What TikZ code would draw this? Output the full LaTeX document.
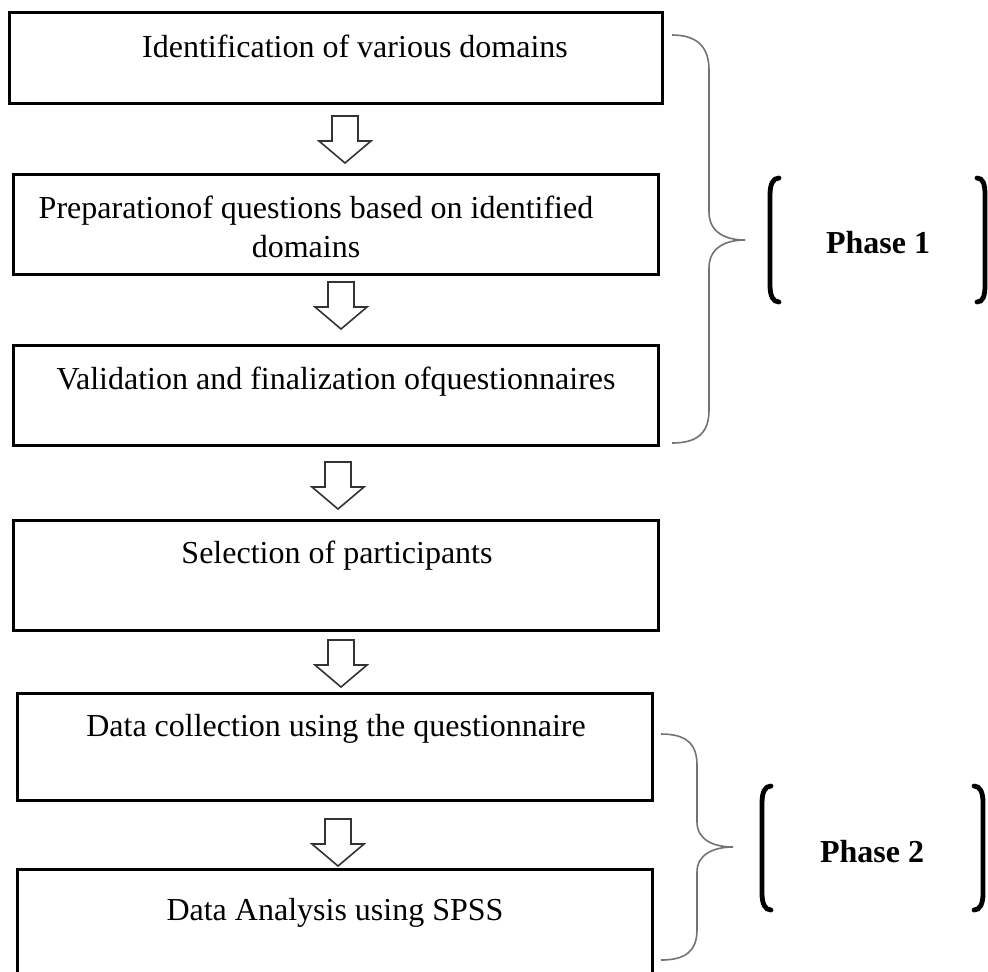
\documentclass[tikz,border=0pt]{standalone}
\usepackage{fontspec}
\setmainfont{Liberation Serif}
\begin{document}
\begin{tikzpicture}[x=0.5pt,y=-0.5pt,
  box/.style={draw=black,line width=1.5pt,inner sep=0pt,fill=white},
  txt/.style={anchor=base,inner sep=0pt,font=\fontsize{16}{19.5}\selectfont},
  phase/.style={anchor=base,inner sep=0pt,font=\fontsize{16}{19.5}\selectfont\bfseries},
  barrow/.style={draw=black!80,line width=0.8pt,fill=white,line join=miter},
  brace/.style={draw=black!55,line width=0.8pt},
  bracket/.style={draw=black,line width=2.4pt,line cap=round}]
\useasboundingbox (0,0) rectangle (988,971);
\clip (0,0) rectangle (988,971);
\fill[white] (0,0) rectangle (988,971);
% boxes
\node[box,minimum width=326.5pt,minimum height=45.5pt] (b1) at (335.5,57.5) {};
\node[box,minimum width=322.5pt,minimum height=50pt] (b2) at (335.5,224) {};
\node[box,minimum width=322.5pt,minimum height=50pt] (b3) at (335.5,395) {};
\node[box,minimum width=322.5pt,minimum height=55pt] (b4) at (335.5,575) {};
\node[box,minimum width=317.5pt,minimum height=53.5pt] (b5) at (334.5,746.5) {};
\node[box,minimum width=317.5pt,minimum height=60.5pt] (b6) at (334.5,929.5) {};
% texts
\node[txt] (t1) at (355,57) {Identification of various domains};
\node[txt] (t2a) at (316,218) {Preparationof questions based on identified};
\node[txt] (t2b) at (306,257) {domains};
\node[txt] (t3) at (336,389) {Validation and finalization ofquestionnaires};
\node[txt] (t4) at (337,563) {Selection of participants};
\node[txt] (t5) at (336,736) {Data collection using the questionnaire};
\node[txt] (t6) at (335,920) {Data Analysis using SPSS};
% block arrows
\coordinate (a1) at (345,116);
\coordinate (a2) at (341,282);
\coordinate (a3) at (338,462);
\coordinate (a4) at (341,640);
\coordinate (a5) at (338,819);
\foreach \a in {a1,a2,a3,a4,a5}{
  \draw[barrow] (\a) ++(-13,0) -- ++(26,0) -- ++(0,25) -- ++(13,0) -- ++(-26,22) -- ++(-26,-22) -- ++(13,0) -- cycle;
}
% braces
\draw[brace] (672,35) .. controls (695,35) and (709,45) .. (709,70) -- (709,212)
  .. controls (709,232) and (725,240) .. (745,240)
  .. controls (725,240) and (709,248) .. (709,268) -- (709,410)
  .. controls (709,435) and (695,443) .. (672,443);
\draw[brace] (661,734) .. controls (684,734) and (697,742) .. (697,765) -- (697,822)
  .. controls (697,840) and (714,847) .. (733,847)
  .. controls (714,847) and (697,854) .. (697,872) -- (697,930)
  .. controls (697,952) and (684,960) .. (661,960);
% brackets phase 1
\draw[bracket] (779,178) .. controls (773,178) and (770,184) .. (770,195) -- (770,285) .. controls (770,296) and (773,302) .. (779,302);
\draw[bracket] (977,178) .. controls (983,178) and (985,184) .. (985,195) -- (985,285) .. controls (985,296) and (983,302) .. (977,302);
\node[phase] (p1) at (878,253) {Phase 1};
% brackets phase 2
\draw[bracket] (771,786) .. controls (765,786) and (762,792) .. (762,803) -- (762,893) .. controls (762,904) and (765,910) .. (771,910);
\draw[bracket] (974,786) .. controls (980,786) and (983,792) .. (983,803) -- (983,893) .. controls (983,904) and (980,910) .. (974,910);
\node[phase] (p2) at (872,862) {Phase 2};
\end{tikzpicture}
\end{document}
